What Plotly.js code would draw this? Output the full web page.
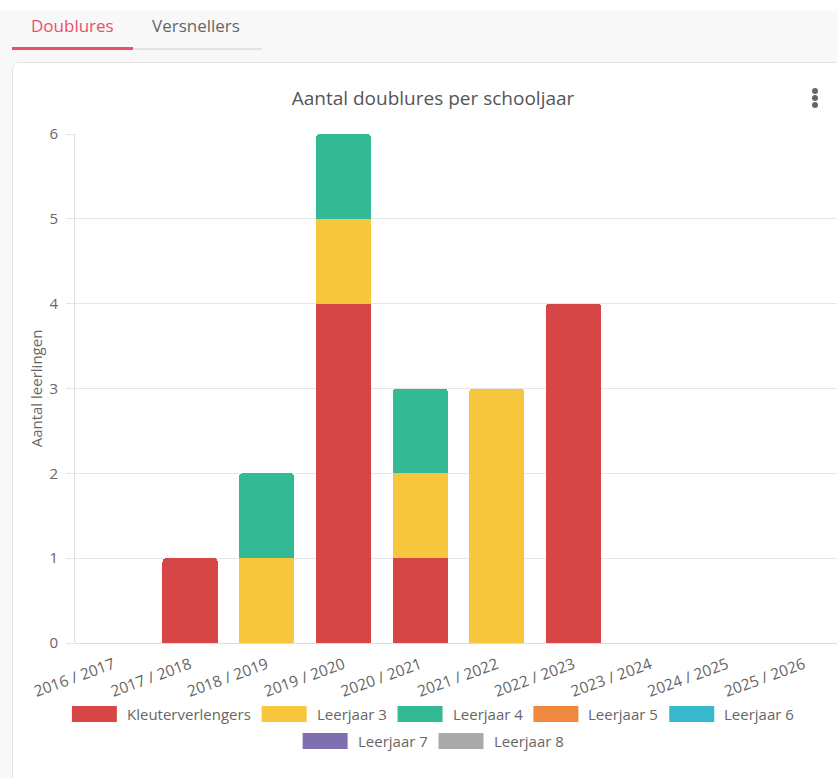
<!DOCTYPE html>
<html><head><meta charset="utf-8">
<script src="https://cdn.plot.ly/plotly-3.0.1.min.js"></script>
<style>
html,body{margin:0;padding:0;width:837px;height:778px;overflow:hidden;background:#fff;font-family:"Open Sans",sans-serif;}
#bg{position:absolute;left:0;top:11px;width:837px;height:767px;background:#f8f8f8;}
#card{position:absolute;left:12px;top:62px;width:850px;height:740px;background:#fff;border:1px solid #e3e3e3;border-radius:7px;}
.tab{position:absolute;top:14px;font-size:17px;}
#t1{left:31px;color:#e8506e;}
#t2{left:152px;color:#666;}
#u1{position:absolute;left:12px;top:47px;width:121px;height:3px;background:#e8506e;}
#u2{position:absolute;left:133px;top:48px;width:129px;height:2px;background:#e3e3e3;}
.dot{position:absolute;left:812px;width:6px;height:6px;border-radius:3px;background:#666;}
#chart{position:absolute;left:0;top:0;width:860px;height:778px;}
</style></head>
<body>
<div id="bg"></div>
<div class="tab" id="t1">Doublures</div>
<div class="tab" id="t2">Versnellers</div>
<div id="u1"></div><div id="u2"></div>
<div id="card"></div>
<div class="dot" style="top:88px"></div>
<div class="dot" style="top:95px"></div>
<div class="dot" style="top:102px"></div>
<div id="chart"></div>
<script>
const schooljaren = ["2016 / 2017","2017 / 2018","2018 / 2019","2019 / 2020","2020 / 2021","2021 / 2022","2022 / 2023","2023 / 2024","2024 / 2025","2025 / 2026"];
const reeksNamen = ["Kleuterverlengers","Leerjaar 3","Leerjaar 4","Leerjaar 5","Leerjaar 6","Leerjaar 7","Leerjaar 8"];
const kleuterverlengers = [0,1,0,4,1,0,4,0,0,0];
const leerjaar3 = [0,0,1,1,1,3,0,0,0,0];
const leerjaar4 = [0,0,1,1,1,0,0,0,0,0];
const leerjaar5 = [0,0,0,0,0,0,0,0,0,0];
const leerjaar6 = [0,0,0,0,0,0,0,0,0,0];
const leerjaar7 = [0,0,0,0,0,0,0,0,0,0];
const leerjaar8 = [0,0,0,0,0,0,0,0,0,0];
const yTicks = [0,1,2,3,4,5,6];
const kleuren = ["#d74646","#f8c63d","#33b994","#f0893e","#37b9cb","#7f6faf","#aaaaaa"];

const reeksen = [kleuterverlengers,leerjaar3,leerjaar4,leerjaar5,leerjaar6,leerjaar7,leerjaar8];
const W = 860, H = 778, ML = 75, MR = 18, MT = 134, MB = 135;
const FONT = '"Open Sans", sans-serif';

const traces = reeksen.map((vals,i)=>({
  type:'bar', name:reeksNamen[i], x:schooljaren, y:vals,
  marker:{color:kleuren[i], line:{width:0}}, hoverinfo:'skip', showlegend:false
}));

// custom legend with wide swatches
const pw = W-ML-MR, ph = H-MT-MB;
const px2x = px => (px-ML)/pw;
const py2y = py => (H-MB-py)/ph;
const LFS = 15;
const cv = document.createElement('canvas').getContext('2d');
cv.font = LFS + 'px "Open Sans"';
const SW = 45, SH = 16, G1 = 8, G2 = 13, MAXW = 790, CX = 432;
const items = reeksNamen.map((n,i)=>({n, c:kleuren[i], w: SW+G1+cv.measureText(n).width}));
const rows = []; let cur = [], cw = 0;
items.forEach(it=>{
  const add = (cur.length?G2:0)+it.w;
  if (cw+add > MAXW && cur.length){ rows.push(cur); cur=[]; cw=0; }
  cw += (cur.length?G2:0)+it.w; cur.push(it);
});
if (cur.length) rows.push(cur);
const shapes = [], annotations = [];
rows.forEach((row,ri)=>{
  const tw = row.reduce((s,it,k)=>s+it.w+(k?G2:0),0);
  let x = CX - tw/2; const cy = 714 + ri*27;
  row.forEach(it=>{
    shapes.push({type:'rect', xref:'paper', yref:'paper', x0:px2x(x), x1:px2x(x+SW), y0:py2y(cy+SH/2), y1:py2y(cy-SH/2),
      fillcolor:it.c, line:{width:0}});
    annotations.push({xref:'paper', yref:'paper', x:px2x(x+SW+G1), y:py2y(cy), xanchor:'left', yanchor:'middle',
      text:it.n, showarrow:false, font:{family:FONT, size:LFS, color:'#666'}});
    x += it.w + G2;
  });
});

const layout = {
  width:W, height:H, margin:{l:ML, r:MR, t:MT, b:MB},
  paper_bgcolor:'rgba(0,0,0,0)', plot_bgcolor:'rgba(0,0,0,0)',
  barmode:'stack', bargap:0.28, barcornerradius:4,
  font:{family:FONT, color:'#666'},
  title:{text:'Aantal doublures per schooljaar', xref:'container', yref:'container', x:433/W, y:1-98/H,
    xanchor:'center', yanchor:'middle', font:{family:FONT, size:19, color:'#555'}},
  xaxis:{type:'category', range:[-0.5,9.5], tickangle:-20, tickfont:{size:15.5, color:'#666'},
    showgrid:false, showline:false, zeroline:false, ticks:'', ticklabelstandoff:9, fixedrange:true},
  yaxis:{range:[0,6], tickvals:yTicks, ticks:'outside', ticklen:8, tickcolor:'#e6e6e6',
    tickfont:{size:15, color:'#666'}, gridcolor:'#e6e6e6', showline:true, linecolor:'#e0e0e0',
    zeroline:true, zerolinecolor:'#dcdcdc', ticklabelstandoff:5, fixedrange:true,
    title:{text:'Aantal leerlingen', font:{size:15, color:'#666'}, standoff:3}},
  shapes, annotations, showlegend:false, hovermode:false
};
Plotly.newPlot('chart', traces, layout, {displayModeBar:false, staticPlot:true});
</script>
</body></html>
